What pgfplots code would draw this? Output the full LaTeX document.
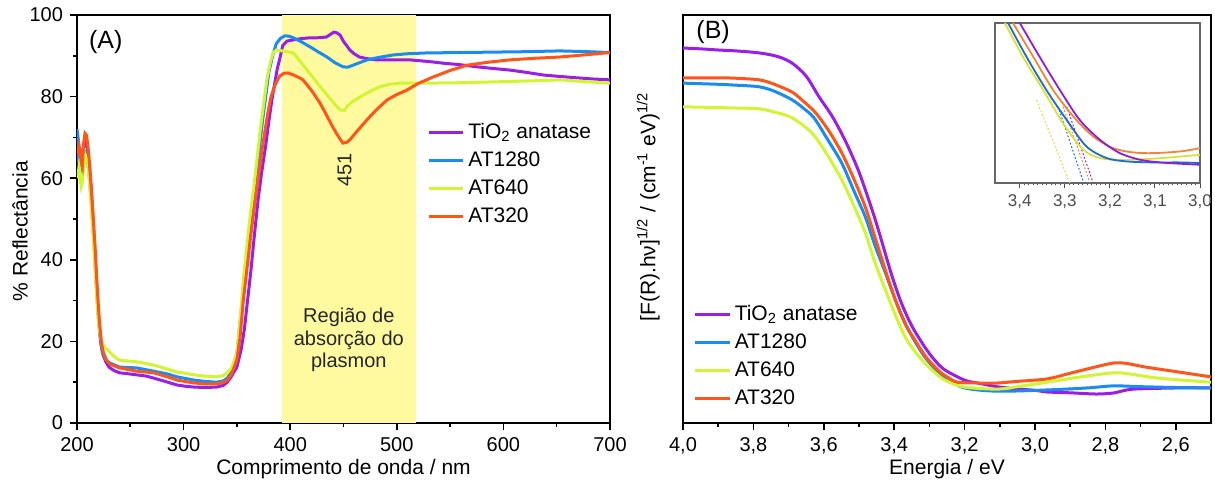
\documentclass[border=0pt]{standalone}
\usepackage{fontspec}
\setmainfont{Liberation Sans}
\usepackage{pgfplots}
\pgfplotsset{compat=1.18}
\definecolor{cpur}{RGB}{155,30,230}
\definecolor{cblu}{RGB}{24,140,240}
\definecolor{cyel}{RGB}{210,245,50}
\definecolor{cora}{RGB}{255,85,25}
\definecolor{cband}{RGB}{255,250,160}
\definecolor{ipur}{RGB}{140,30,215}
\definecolor{iblu}{RGB}{30,110,200}
\definecolor{iyel}{RGB}{215,225,60}
\definecolor{iora}{RGB}{240,135,55}
\pgfplotsset{
  myaxis/.style={
    scale only axis, height=204pt,
    axis line style={line width=1pt},
    every tick/.append style={black, line width=0.8pt},
    xtick align=outside, ytick align=outside, tick pos=left,
    major tick length=3.5pt, minor tick length=2pt,
    tick label style={font=\fontsize{10}{12}\selectfont},
    label style={font=\fontsize{10.5}{12}\selectfont},
    /pgf/number format/assume math mode=true,
    every axis plot/.append style={line width=1.5pt},
    legend style={draw=none, fill=none, font=\fontsize{10.5}{12.5}\selectfont, row sep=1.2pt},
    legend cell align=left,
  }
}
\begin{document}
\begin{tikzpicture}
\useasboundingbox (0pt,0pt) rectangle (607.5pt,243pt);
% ---------------- Panel A
\begin{axis}[myaxis, at={(38.5pt,31.5pt)}, anchor=south west, width=266.5pt,
  xmin=200, xmax=700, ymin=0, ymax=100,
  xtick={200,300,400,500,600,700}, ytick={0,20,40,60,80,100},
  minor x tick num=1, minor y tick num=1,
  xlabel={Comprimento de onda / nm}, ylabel={\% Reflectância},
  xlabel style={at={(axis description cs:0.5,-0.112)}, anchor=center},
  ylabel style={at={(axis description cs:-0.107,0.47)}, anchor=center},
  legend style={at={(axis description cs:0.645,0.755)}, anchor=north west},
]
\addplot[fill=cband, draw=none, forget plot] coordinates {(392,0) (392,100) (518,100) (518,0)} -- cycle;
\addplot[cpur] coordinates {(200,64) (202,65.5) (204,66) (206,67.5) (208,69) (210,67) (212,62) (214,55) (216,46) (218,36) (220,27) (222,20.5) (224,17) (227,15) (230,13.7) (235,12.8) (240,12.3) (250,12) (256,11.8) (265,11.5) (272,11) (280,10.4) (294,9.3) (302,9) (310,8.8) (320,8.7) (331,8.8) (337,9.2) (341,10) (345,11.5) (350,13.7) (354,18) (357,23) (360,30) (363,37) (366,45) (370,55) (373,61) (377,68) (380,74) (383,79.5) (386,84) (388,87) (390,89) (393,92.5) (397,93.6) (403,93.9) (410,94.2) (418,94.4) (425,94.4) (434,94.6) (438,95.3) (441,95.8) (444,95.6) (447,95) (450,93.5) (453,92.5) (456,91.4) (460,90.5) (465,89.7) (472,89.3) (481,89) (495,89) (512,89) (530,88.6) (543,88.2) (560,87.8) (575,87.3) (590,86.9) (606,86.5) (620,86) (637,85.3) (650,85) (669,84.6) (685,84.3) (700,84.1)};
\addlegendentry{TiO\textsubscript{2} anatase}
\addplot[cblu] coordinates {(200,72) (201,70) (202,63) (203,61) (204,64) (206,66) (208,66.5) (210,64) (212,59) (214,52) (216,44) (218,34) (220,26) (222,20) (224,17.2) (227,15.5) (230,14.8) (240,13.7) (256,13.5) (272,12.7) (285,12) (294,11.3) (310,10.5) (320,10.2) (331,10.0) (337,10.3) (341,11) (345,12.5) (350,17) (355,30) (359,39) (362,47) (365,53) (368,60) (371,67) (374,74) (377,80) (380,86) (384,90.5) (387,93) (391,94.3) (395,94.9) (399,94.8) (403,94.4) (410,93.5) (418.6,92.2) (426,91) (434.5,89.7) (442,88.3) (449.5,87.3) (454,87.2) (459,87.7) (465,88.3) (472,89) (485,89.7) (496.5,90.2) (510,90.5) (528,90.7) (560,90.8) (590,90.9) (620,91) (653,91.2) (680,91) (700,90.8)};
\addlegendentry{AT1280}
\addplot[cyel] coordinates {(200,60) (201,61) (202,63) (203,60) (204,58) (205,59) (206,62) (208,65.5) (210,64) (212,58) (214,50) (216,42) (218,33) (220,25) (222,21) (224,19.3) (227,18.3) (230,17.5) (235,16.2) (240,15.4) (256,15.0) (272,14.2) (285,13.2) (294,12.5) (310,11.8) (320,11.5) (331,11.3) (337,11.6) (341,12.3) (345,13.5) (350,17.2) (353,25) (356,35) (360,45) (363,52) (366,58) (369,65) (372,72) (375,78) (378,84) (381,88) (384,90.8) (387,91.4) (390,91.3) (395,91.1) (403,90.7) (412,87.8) (421,84.8) (428,82.5) (434.5,80.4) (441,78.4) (447,76.7) (451,76.6) (453,77.5) (458,78.7) (465.5,79.9) (475,81.3) (484,82.4) (493,83) (503,83.3) (528,83.3) (560,83.4) (590,83.6) (620,83.8) (653,84.1) (680,83.6) (700,83.3)};
\addlegendentry{AT640}
\addplot[cora] coordinates {(200,66) (202,68) (204,64) (205,63) (206,68) (207.5,71) (209,70.5) (211,66) (213,59) (215,51) (217,43) (219,33) (221,25) (223,19.5) (225,17) (228,15.3) (231,14.4) (240,13.5) (256,12.7) (272,12.3) (285,11.3) (294,10.5) (310,9.8) (320,9.6) (331,9.6) (337,9.9) (341,10.5) (345,12) (350,15.5) (353,21) (356,30) (360,39) (363,46) (366,52) (370,60) (373,66) (376,71) (379,76) (382,80) (386,83) (390,85) (394,85.7) (398,85.8) (403,85.3) (408,84.7) (412,84.1) (420,81.5) (428,78.4) (434,75.5) (440,72.5) (445,70.3) (449.5,68.6) (453,68.8) (456,69.4) (462,71.3) (472,74.3) (481,76.8) (491,79.2) (500,80.5) (509.5,81.6) (520,83.2) (534,84.8) (550,86.4) (566,87.7) (585,88.4) (606,89) (630,89.4) (653,89.7) (675,90.2) (700,90.8)};
\addlegendentry{AT320}
\node[font=\fontsize{12.5}{14}\selectfont] at (axis description cs:0.054,0.934) {(A)};
\node[font=\fontsize{10}{12}\selectfont, rotate=90, text=black!85] at (axis cs:451,62) {451};
\node[font=\fontsize{10}{11.2}\selectfont, align=center, text=black!85] at (axis cs:455,20.3) {Região de\\absorção do\\plasmon};
\end{axis}
% ---------------- Panel B
\begin{axis}[myaxis, at={(341.5pt,31.5pt)}, anchor=south west, width=264pt,
  xmin=2.5, xmax=4.0, x dir=reverse, ymin=0, ymax=100, ytick=\empty,
  xtick={2.6,2.8,3.0,3.2,3.4,3.6,3.8,4.0}, minor x tick num=1,
  xticklabel style={/pgf/number format/.cd, use comma, fixed, fixed zerofill, precision=1},
  xlabel={Energia / eV},
  ylabel={[F(R).hν]\textsuperscript{1/2} / (cm\textsuperscript{-1} eV)\textsuperscript{1/2}},
  xlabel style={at={(axis description cs:0.5,-0.112)}, anchor=center},
  ylabel style={at={(axis description cs:-0.066,0.53)}, anchor=center},
  legend style={at={(axis description cs:0.008,0.31)}, anchor=north west},
]
\addplot[cpur, smooth] coordinates {(4.0,91.9) (3.95,91.7) (3.896,91.4) (3.85,91.2) (3.783,90.7) (3.73,89.8) (3.69,88.2) (3.65,85) (3.614,80) (3.575,75) (3.538,69) (3.5,61.5) (3.46,51.5) (3.437,45) (3.408,36.5) (3.38,29.5) (3.35,23.8) (3.313,18.6) (3.285,15.4) (3.256,13.0) (3.2,10.5) (3.163,9.8) (3.1,8.8) (3.0,8.0) (2.966,7.6) (2.9,7.4) (2.825,7.1) (2.777,7.35) (2.75,7.9) (2.721,8.3) (2.65,8.5) (2.58,8.6) (2.5,8.6)};
\addlegendentry{TiO\textsubscript{2} anatase}
\addplot[cblu, smooth] coordinates {(4.0,83.3) (3.896,83.0) (3.85,82.8) (3.783,82.4) (3.74,81.3) (3.69,79.2) (3.66,77.3) (3.628,74.8) (3.59,69.6) (3.549,63.7) (3.515,57) (3.482,50.5) (3.455,43.6) (3.425,36.8) (3.397,30.2) (3.369,24.5) (3.34,19.8) (3.313,16.2) (3.285,13.3) (3.256,11.0) (3.2,8.6) (3.107,7.8) (2.966,8.1) (2.85,8.6) (2.777,9.1) (2.7,8.9) (2.6,8.7) (2.5,8.6)};
\addlegendentry{AT1280}
\addplot[cyel, smooth] coordinates {(4.0,77.5) (3.896,77.3) (3.85,77.2) (3.783,77.0) (3.74,76.2) (3.69,74.8) (3.634,71.1) (3.59,65.7) (3.549,59.6) (3.515,53.3) (3.482,46.6) (3.455,39.4) (3.425,32.6) (3.397,26.5) (3.369,21.1) (3.34,17.4) (3.313,14.7) (3.285,12.4) (3.256,10.5) (3.2,8.8) (3.107,8.3) (3.05,8.9) (2.966,10.0) (2.87,11.3) (2.777,12.3) (2.73,12.0) (2.65,11.0) (2.5,10.0)};
\addlegendentry{AT640}
\addplot[cora, smooth] coordinates {(4.0,84.6) (3.896,84.6) (3.85,84.5) (3.783,84.1) (3.74,83) (3.69,81.1) (3.66,79) (3.623,76.0) (3.585,71.5) (3.549,66.2) (3.515,59.9) (3.482,52.9) (3.46,47) (3.437,40.7) (3.413,34.2) (3.389,28.4) (3.365,23.6) (3.341,20.3) (3.31,16.2) (3.276,13.0) (3.25,11.3) (3.220,10.0) (3.16,9.8) (3.107,9.8) (3.05,10.2) (2.966,10.8) (2.9,12.2) (2.83,13.7) (2.777,14.7) (2.74,14.6) (2.685,13.7) (2.6,12.6) (2.5,11.3)};
\addlegendentry{AT320}
\node[font=\fontsize{12.5}{14}\selectfont] at (axis description cs:0.057,0.958) {(B)};
\end{axis}
% ---------------- Inset
\begin{axis}[at={(497.5pt,151.5pt)}, anchor=south west, scale only axis,
  width=102.5pt, height=80pt,
  xmin=3.0, xmax=3.455, x dir=reverse, ymin=0, ymax=482, ytick=\empty,
  xtick={3.0,3.1,3.2,3.3,3.4}, minor x tick num=9,
  tick pos=left, xtick align=outside, major tick length=2.5pt, minor tick length=1.2pt,
  every tick/.append style={black!70, line width=0.5pt},
  axis line style={black!60, line width=0.6pt},
  axis background/.style={fill=white},
  tick label style={font=\fontsize{8.5}{10}\selectfont, text=black!70},
  /pgf/number format/assume math mode=true,
  xticklabel style={/pgf/number format/.cd, use comma, fixed, fixed zerofill, precision=1},
  every axis plot/.append style={line width=0.9pt},
]
\addplot[iyel, densely dotted, line width=0.5pt] coordinates {(3.363,250) (3.289,0)};
\addplot[iblu, densely dotted, line width=0.5pt] coordinates {(3.315,230) (3.258,0)};
\addplot[iora, densely dotted, line width=0.5pt] coordinates {(3.304,230) (3.244,0)};
\addplot[ipur, densely dotted, line width=0.5pt] coordinates {(3.296,230) (3.237,0)};
\addplot[iyel, smooth] coordinates {(3.433,482) (3.393,380) (3.348,280) (3.304,180) (3.259,100) (3.222,75) (3.178,70) (3.119,72) (3.059,78) (3.0,85)};
\addplot[iblu, smooth] coordinates {(3.426,482) (3.385,380) (3.341,280) (3.296,190) (3.252,110) (3.207,75) (3.163,65) (3.104,62) (3.044,62) (3.0,60)};
\addplot[iora, smooth] coordinates {(3.415,482) (3.370,380) (3.326,280) (3.281,200) (3.237,140) (3.193,105) (3.148,92) (3.104,90) (3.044,95) (3.0,105)};
\addplot[ipur, smooth] coordinates {(3.400,482) (3.356,380) (3.311,280) (3.267,190) (3.222,130) (3.178,90) (3.133,70) (3.089,62) (3.044,58) (3.0,55)};
\end{axis}
\end{tikzpicture}
\end{document}
